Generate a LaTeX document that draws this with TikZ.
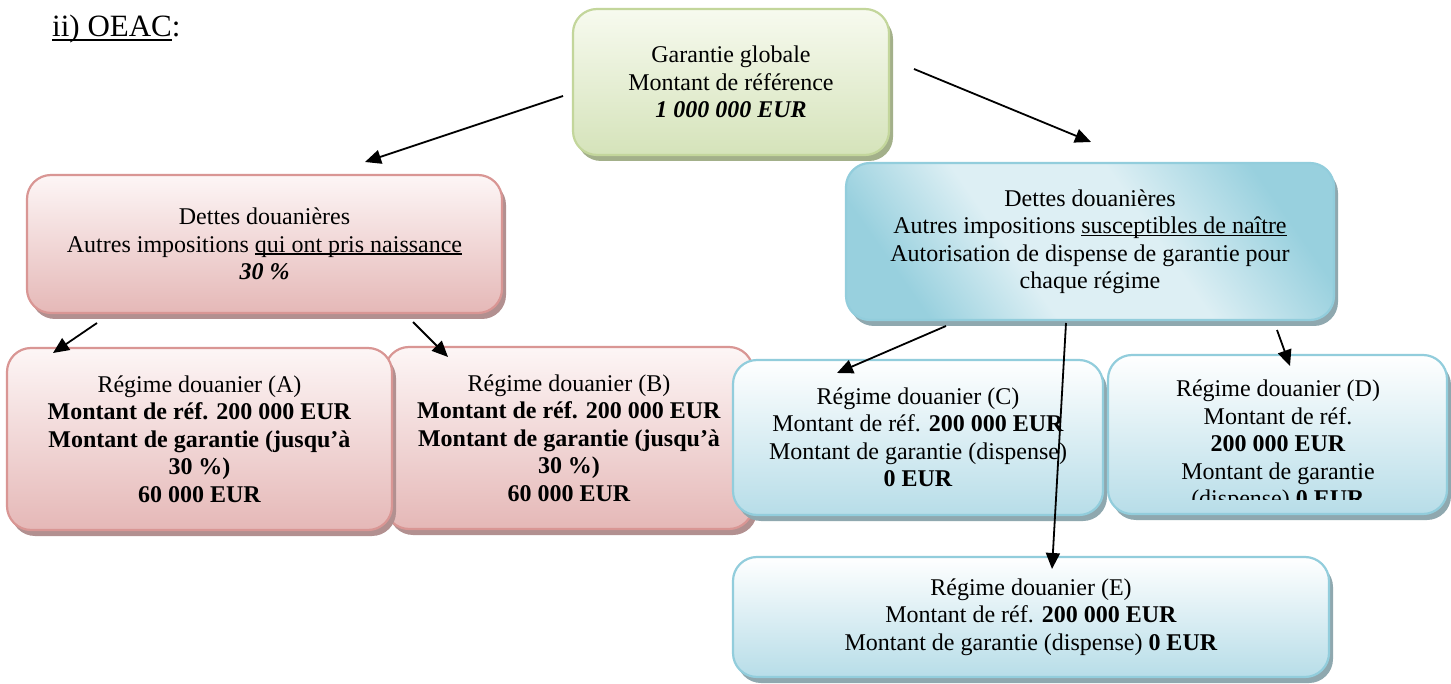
\documentclass[tikz,border=0pt]{standalone}
\usepackage{fontspec}
\setmainfont{Liberation Serif}
\usetikzlibrary{arrows.meta,shadows}
\definecolor{grT}{HTML}{F7FAEF}
\definecolor{grB}{HTML}{D5E3BA}
\definecolor{grD}{HTML}{C3D69B}
\definecolor{grS}{HTML}{A3B08A}
\definecolor{pkT}{HTML}{FDF6F6}
\definecolor{pkB}{HTML}{E5B8B7}
\definecolor{pkD}{HTML}{D99694}
\definecolor{pkS}{HTML}{B29090}
\definecolor{blT}{HTML}{FFFFFF}
\definecolor{blB}{HTML}{B7DDE8}
\definecolor{blD}{HTML}{92CDDC}
\definecolor{blS}{HTML}{8FA8AF}
\definecolor{bbDk}{HTML}{98D0DE}
\definecolor{bbLt}{HTML}{DDEFF4}
\pgfdeclarehorizontalshading{bigblue}{100bp}{color(0bp)=(bbDk); color(25bp)=(bbDk); color(40bp)=(bbLt); color(58bp)=(bbLt); color(75bp)=(bbDk); color(100bp)=(bbDk)}
\newsavebox\myulbox
\newcommand\myul[1]{\sbox\myulbox{#1}\rlap{\rule[-2.6pt]{\wd\myulbox}{1.6pt}}\usebox\myulbox}
\newcommand\myulT[1]{\sbox\myulbox{#1}\rlap{\rule[-4.5pt]{\wd\myulbox}{2.6pt}}\usebox\myulbox}
\begin{document}
\begin{tikzpicture}[x=1pt,y=-1pt,
  boxbase/.style={draw, line width=2.2pt, rounded corners=24pt, inner sep=0pt, align=center,
    font=\fontsize{24}{27.5}\selectfont},
  grbox/.style={boxbase, draw=grD, top color=grT, bottom color=grB,
    general shadow={fill=grS, shadow xshift=4pt, shadow yshift=-6pt}},
  pkbox/.style={boxbase, draw=pkD, top color=pkT, bottom color=pkB,
    general shadow={fill=pkS, shadow xshift=4pt, shadow yshift=-6pt}},
  blbox/.style={boxbase, draw=blD, top color=blT, bottom color=blB,
    general shadow={fill=blS, shadow xshift=4pt, shadow yshift=-6pt}},
  bigbox/.style={boxbase, draw=blD, shading=bigblue, shading angle=35,
    general shadow={fill=blS, shadow xshift=4pt, shadow yshift=-6pt}},
  plain/.style={inner sep=0pt, align=center, font=\fontsize{24}{27.5}\selectfont},
  conn/.style={line width=1.8pt, -{Triangle[length=16pt,width=14pt]}}
]
\useasboundingbox[fill=white] (0,0) rectangle (1451,684);

\node[anchor=base west, inner sep=0pt, font=\fontsize{31}{36}\selectfont] (title) at (52,37) {\myulT{ii) OEAC}:};

\node[grbox, minimum width=316pt, minimum height=146pt] (G) at (731,82)
  {Garantie globale\\Montant de référence\\\textbf{\textit{1 000 000 EUR}}};

\node[pkbox, minimum width=475pt, minimum height=138pt] (P) at (264.5,244)
  {Dettes douanières\\Autres impositions \myul{qui ont pris naissance}\\\textbf{\textit{30 \%}}};

\node[bigbox, minimum width=488pt, minimum height=157pt] (BB) at (1090,241.5)
  {Dettes douanières\\Autres impositions \myul{susceptibles de naître}\\Autorisation de dispense de garantie pour\\chaque régime};

\node[pkbox, minimum width=368pt, minimum height=182pt] (B) at (569,438)
  {Régime douanier (B)\\\textbf{Montant de réf. 200 000 EUR}\\\textbf{Montant de garantie (jusqu’à}\\\textbf{30 \%)}\\\textbf{60 000 EUR}};

\node[pkbox, minimum width=385pt, minimum height=182pt] (A) at (199.5,439)
  {Régime douanier (A)\\\textbf{Montant de réf. 200 000 EUR}\\\textbf{Montant de garantie (jusqu’à}\\\textbf{30 \%)}\\\textbf{60 000 EUR}};

\node[blbox, minimum width=370pt, minimum height=155pt] (C) at (918,437.5)
  {Régime douanier (C)\\Montant de réf. \textbf{200 000 EUR}\\Montant de garantie (dispense)\\\textbf{0 EUR}};

\node[blbox, minimum width=339pt, minimum height=159pt] (D) at (1277.5,434.5) {};
\begin{scope}
  \clip (1108,355) rectangle (1447,499);
  \node[plain, anchor=north] (Dtxt) at (1278,380)
    {Régime douanier (D)\\Montant de réf.\\\textbf{200 000 EUR}\\Montant de garantie\\(dispense) \textbf{0 EUR}};
\end{scope}

\node[blbox, minimum width=596pt, minimum height=120pt] (E) at (1031,617)
  {Régime douanier (E)\\Montant de réf. \textbf{200 000 EUR}\\Montant de garantie (dispense) \textbf{0 EUR}};

\coordinate (g2p) at (563,96);   \coordinate (pIn) at (365,162);
\coordinate (g2b) at (914,69);   \coordinate (bIn) at (1091,142);
\coordinate (p2a) at (97,323);   \coordinate (aIn) at (53,353);
\coordinate (p2b) at (413,322);  \coordinate (bbIn) at (448,357);
\coordinate (b2c) at (946,326);  \coordinate (cIn) at (837,373);
\coordinate (b2e) at (1066,323); \coordinate (eIn) at (1052,569);
\coordinate (b2d) at (1277,330); \coordinate (dIn) at (1290,366);

\draw[conn] (g2p) -- (pIn);
\draw[conn] (g2b) -- (bIn);
\draw[conn] (p2a) -- (aIn);
\draw[conn] (p2b) -- (bbIn);
\draw[conn] (b2c) -- (cIn);
\draw[conn] (b2e) -- (eIn);
\draw[conn] (b2d) -- (dIn);
\end{tikzpicture}
\end{document}
